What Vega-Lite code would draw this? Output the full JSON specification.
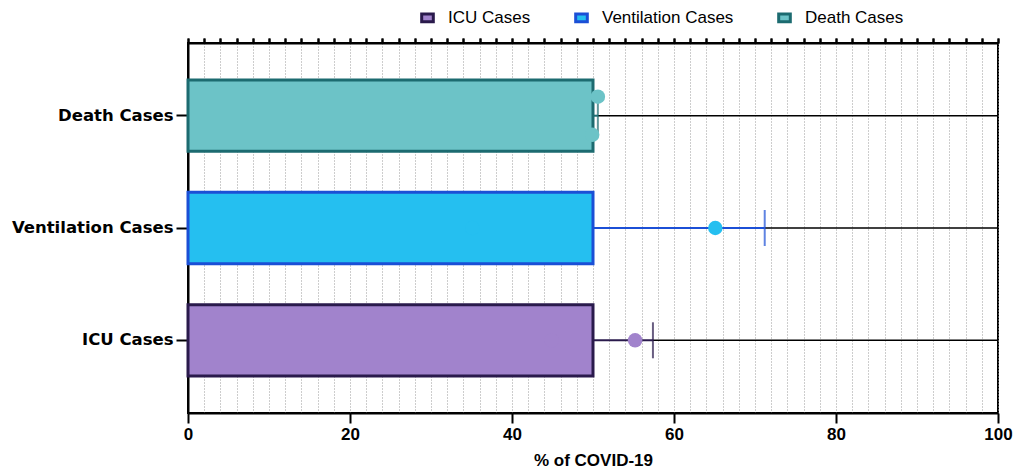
{
  "$schema": "https://vega.github.io/schema/vega-lite/v6.json",
  "width": 810,
  "height": 370,
  "autosize": {"type": "none"},
  "padding": {"left": 188, "top": 43, "right": 21, "bottom": 59},
  "background": "white",
  "datasets": {
    "bars": [
      {"group": "Death Cases", "value": 50, "err": 50.6, "end": 100},
      {"group": "Ventilation Cases", "value": 50, "err": 71.2, "end": 100},
      {"group": "ICU Cases", "value": 50, "err": 57.4, "end": 100}
    ],
    "points": [
      {"group": "Death Cases", "pct": 50.6, "rep": "upper"},
      {"group": "Death Cases", "pct": 49.9, "rep": "lower"},
      {"group": "Ventilation Cases", "pct": 65.1, "rep": "center"},
      {"group": "Ventilation Cases", "pct": 35.1, "rep": "center"},
      {"group": "ICU Cases", "pct": 55.2, "rep": "center"},
      {"group": "ICU Cases", "pct": 44.9, "rep": "center"}
    ]
  },
  "encoding": {
    "y": {
      "field": "group", "type": "nominal",
      "sort": ["Death Cases", "Ventilation Cases", "ICU Cases"],
      "scale": {"paddingInner": 0.365, "paddingOuter": 0.33},
      "axis": {
        "title": null, "labelFont": "DejaVu Sans", "labelFontWeight": "bold",
        "labelFontSize": 16.5, "labelColor": "black", "labelPadding": 3,
        "tickSize": 12, "tickWidth": 2, "tickColor": "black",
        "domainColor": "black", "domainWidth": 2
      }
    }
  },
  "layer": [
    {
      "data": {"name": "bars"},
      "mark": {"type": "bar", "strokeWidth": 3, "opacity": 1},
      "encoding": {
        "x": {
          "field": "value", "type": "quantitative",
          "scale": {"domain": [0, 100], "nice": false},
          "axis": {
            "title": "% of COVID-19", "titleFont": "Liberation Sans", "titleFontWeight": "bold",
            "titleFontSize": 17, "titleColor": "black", "titlePadding": 10,
            "values": [0, 20, 40, 60, 80, 100], "labelFlush": false,
            "labelFont": "Liberation Sans", "labelFontWeight": "bold",
            "labelFontSize": 17, "labelColor": "black", "labelPadding": 3,
            "tickSize": 10, "tickWidth": 2, "tickColor": "black",
            "domainColor": "black", "domainWidth": 2, "grid": false
          }
        },
        "fill": {
          "field": "group", "type": "nominal", "title": null,
          "scale": {
            "domain": ["ICU Cases", "Ventilation Cases", "Death Cases"],
            "range": ["#a183cc", "#25bff0", "#6cc3c7"]
          },
          "legend": {
            "orient": "none", "direction": "horizontal", "legendX": 231, "legendY": -34,
            "symbolType": "M-1.5,-1H1.5V1H-1.5Z", "symbolSize": 60, "symbolStrokeWidth": 3,
            "labelFont": "Liberation Sans", "labelFontSize": 17, "labelColor": "black",
            "columnPadding": 38, "labelOffset": 12
          }
        },
        "stroke": {
          "field": "group", "type": "nominal", "title": null,
          "scale": {
            "domain": ["ICU Cases", "Ventilation Cases", "Death Cases"],
            "range": ["#2a1a4c", "#1b4fd6", "#1c6b70"]
          }
        }
      }
    },
    {
      "data": {"name": "bars"},
      "mark": {"type": "rule", "color": "black", "strokeWidth": 1.5},
      "encoding": {
        "x": {
          "field": "err", "type": "quantitative",
          "axis": {
            "values": [0,2,4,6,8,10,12,14,16,18,20,22,24,26,28,30,32,34,36,38,40,42,44,46,48,50,52,54,56,58,60,62,64,66,68,70,72,74,76,78,80,82,84,86,88,90,92,94,96,98,100],
            "labels": false, "title": null, "domain": false,
            "tickSize": 5, "tickWidth": 2, "tickColor": "black",
            "grid": true, "gridDash": [1, 2], "gridColor": "#9a9a9a", "gridWidth": 1
          }
        },
        "x2": {"field": "end"}
      }
    },
    {
      "data": {"name": "bars"},
      "mark": {"type": "rule", "strokeWidth": 2},
      "encoding": {
        "x": {
          "field": "value", "type": "quantitative",
          "axis": {
            "orient": "top",
            "values": [0,2,4,6,8,10,12,14,16,18,20,22,24,26,28,30,32,34,36,38,40,42,44,46,48,50,52,54,56,58,60,62,64,66,68,70,72,74,76,78,80,82,84,86,88,90,92,94,96,98,100],
            "labels": false, "title": null, "domain": true, "domainColor": "black", "domainWidth": 2,
            "tickSize": 5, "tickWidth": 2, "tickColor": "black", "grid": false
          }
        },
        "x2": {"field": "err"},
        "stroke": {"field": "group", "type": "nominal", "legend": null}
      }
    },
    {
      "data": {"name": "bars"},
      "mark": {"type": "tick", "thickness": 2, "size": 36},
      "encoding": {
        "x": {"field": "err", "type": "quantitative", "axis": null},
        "color": {"field": "group", "type": "nominal", "legend": null,
          "scale": {
            "domain": ["ICU Cases", "Ventilation Cases", "Death Cases"],
            "range": ["#2a1a4c", "#1b4fd6", "#1c6b70"]
          }}
      }
    },
    {
      "data": {"name": "points"},
      "mark": {"type": "point", "filled": true, "opacity": 1, "size": 210, "shape": "circle"},
      "encoding": {
        "x": {"field": "pct", "type": "quantitative", "axis": null},
        "yOffset": {
          "field": "rep", "type": "nominal",
          "sort": ["upper", "center", "lower"],
          "scale": {"domain": ["upper", "center", "lower"], "paddingInner": 0, "paddingOuter": 0.87}
        },
        "fill": {"field": "group", "type": "nominal", "legend": null}
      }
    }
  ],
  "resolve": {"axis": {"x": "independent"}, "scale": {"yOffset": "independent"}},
  "config": {
    "view": {"stroke": "black", "strokeWidth": 2},
    "font": "Liberation Sans"
  }
}
